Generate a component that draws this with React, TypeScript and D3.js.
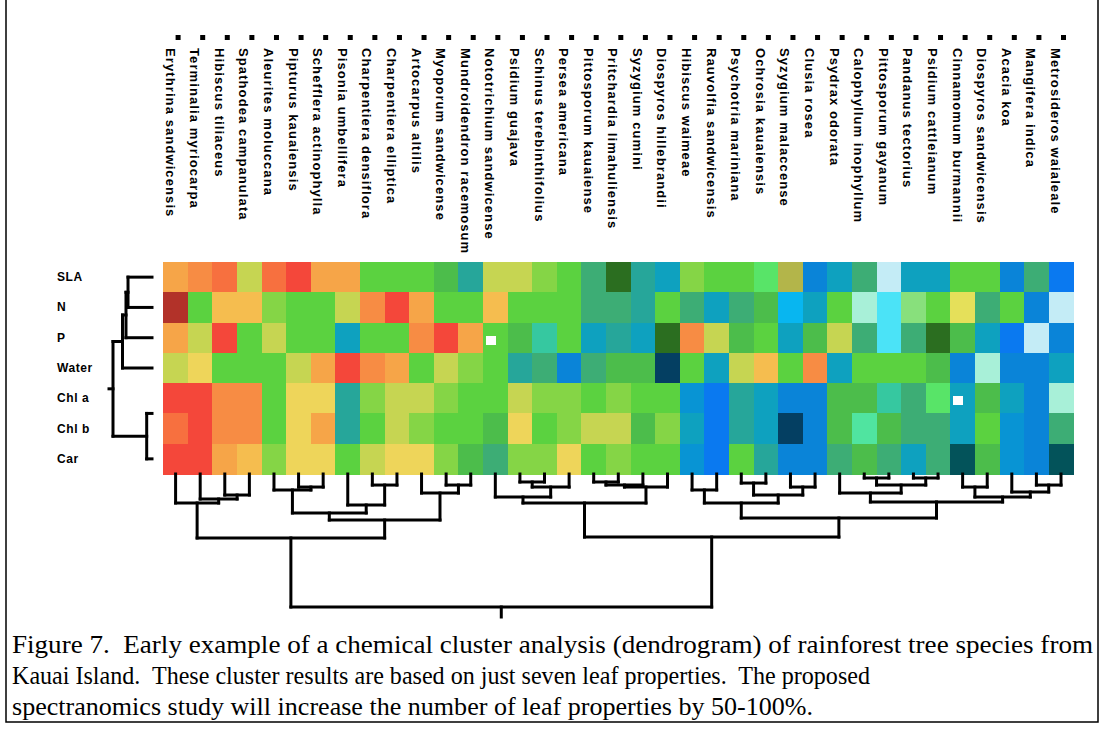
import React from "react";
import * as d3 from "d3";

// ---------- DATA ----------
const species = [
  "Erythrina sandwicensis", "Terminalia myriocarpa", "Hibiscus tiliaceus", "Spathodea campanulata",
  "Aleurites moluccana", "Pipturus kauaiensis", "Schefflera actinophylla", "Pisonia umbellifera",
  "Charpentiera densiflora", "Charpentiera elliptica", "Artocarpus altilis", "Myoporum sandwicense",
  "Mundroidendron racemosum", "Nototrichium sandwicense", "Psidium guajava", "Schinus terebinthifolius",
  "Persea americana", "Pittosporum kauaiense", "Pritchardia limahuliensis", "Syzygium cumini",
  "Diospyros hillebrandii", "Hibiscus waimeae", "Rauvolfia sandwicensis", "Psychotria mariniana",
  "Ochrosia kauaiensis", "Syzygium malaccense", "Clusia rosea", "Psydrax odorata",
  "Calophyllum inophyllum", "Pittosporum gayanum", "Pandanus tectorius", "Psidium cattleianum",
  "Cinnamomum burmannii", "Diospyros sandwicensis", "Acacia koa", "Mangifera indica",
  "Metrosideros waialeale",
];

const traits = ["SLA", "N", "P", "Water", "Chl a", "Chl b", "Car"];

// colour classes of the heat map (one code per cell)
const colorCodes = ["R", "r", "o", "O", "a", "A", "y", "Y", "k", "v", "l", "g", "m", "p", "G", "s", "t", "q", "Q", "M", "c", "u", "b", "B", "S", "C", "L", "d", "n", "x"];
const colorValues = ["#b23229", "#f4473a", "#f7703f", "#f78c44", "#f6a548", "#f5bd4f", "#eed55a", "#e5e05a", "#c6d552", "#b3b54a", "#85d546", "#5bd240", "#4cbd4b", "#58e468", "#88e07c", "#3dad75", "#26a69a", "#36c8a0", "#50e4a0", "#a8f0d8", "#0ea1bf", "#0894d4", "#0a84d8", "#0a79f0", "#08b6f0", "#4be3f7", "#c4ecf6", "#2b6e20", "#043f62", "#03535a"];

const rowSLA = "aOokoraa" + "gggmtkkl" + "gsdtclgg" + "pvbcsLcc" + "ggbsB";
const rowN = "RgAAlggk" + "OraggAgg" + "gsstgscs" + "mScgMCGg" + "YsgbL";
const rowP = "akrgkggc" + "ggOragmq" + "gctcdOkm" + "gcmksCsd" + "mcBLb";
const rowWater = "kygggkar" + "Oagklgts" + "bsmmngck" + "AgOcgggm" + "bMbbc";
const rowChlA = "rrOOgyyt" + "lkklggkl" + "lglgguBt" + "cbbmmqsp" + "cmcbM";
const rowChlB = "orOOgyat" + "gklggmyg" + "lkkmlcBt" + "cnbmQmss" + "cgubs";
const rowCar = "rraAlyyg" + "kyylmsll" + "yglgguBg" + "tbbsmscs" + "xmubx";
const heatRows = [rowSLA, rowN, rowP, rowWater, rowChlA, rowChlB, rowCar];

// cells flagged with a white marker [trait index, species index]
const missingCells: [number, number][] = [[2, 13], [4, 32]];

// dendrograms: leaf = index, node = [merge height, left, right]
type TNode = number | [number, TNode, TNode];
const colTree: TNode = [1.0,
  [0.481,
    [0.218, 0, [0.188, 1, [0.158, 2, 3]]],
    [0.346,
      [0.293, [0.12, 4, [0.098, 5, 6]], [0.233, 7, [0.083, 8, 9]]],
      [0.143, 10, [0.083, 11, 12]]]],
  [0.474,
    [0.218,
      [0.173, 13, [0.098, [0.06, 14, 15], 16]],
      [0.098, [0.083, [0.06, 17, 18], 19], 20]],
    [0.331,
      [0.218, [0.12, 21, 22], [0.158, [0.068, 23, 24], [0.098, 25, 26]]],
      [0.21,
        [0.143, 27, [0.083, [0.03, 28, 29], [0.03, 30, 31]]],
        [0.173, [0.098, 32, 33], [0.135, 34, [0.083, 35, 36]]]]]]];

const rowTree: TNode = [1.0,
  [0.756, [0.667, [0.615, 0, 1], 2], 3],
  [0.136, [0, 4, 5], 6]];

const captionLines = [
  "Figure 7.  Early example of a chemical cluster analysis (dendrogram) of rainforest tree species from",
  "Kauai Island.  These cluster results are based on just seven leaf properties.  The proposed",
  "spectranomics study will increase the number of leaf properties by 50-100%.",
];
const captionWidths = [1081, 858, 801];

// ---------- LAYOUT ----------
const W = 1106, H = 731;
const heatLeft = 163.3, heatRight = 1073.3, heatTop = 262, heatBottom = 474;

type Seg = { p1: number; h1: number; p2: number; h2: number };
function layoutTree(node: TNode, leafPos: (i: number) => number, segs: Seg[]): { p: number; h: number } {
  if (typeof node === "number") return { p: leafPos(node), h: 0 };
  const [h, a, b] = node;
  const A = layoutTree(a, leafPos, segs);
  const B = layoutTree(b, leafPos, segs);
  if (h > 0) {
    segs.push({ p1: A.p, h1: A.h, p2: A.p, h2: h });
    segs.push({ p1: B.p, h1: B.h, p2: B.p, h2: h });
    segs.push({ p1: A.p, h1: h, p2: B.p, h2: h });
  }
  return { p: (A.p + B.p) / 2, h };
}

export default function App() {
  const x = d3.scaleBand<string>().domain(species).range([heatLeft, heatRight]);
  const y = d3.scaleBand<string>().domain(traits).range([heatTop, heatBottom]);
  const color = d3.scaleOrdinal<string, string>().domain(colorCodes).range(colorValues);

  const colH = d3.scaleLinear().domain([0, 1]).range([heatBottom, 607]);
  const rowH = d3.scaleLinear().domain([0, 1]).range([152, 113]);

  const colSegs: Seg[] = [];
  const colRoot = layoutTree(colTree, (i) => (x(species[i]) as number) + x.bandwidth() / 2, colSegs);
  const rowSegs: Seg[] = [];
  const rowRoot = layoutTree(rowTree, (i) => (y(traits[i]) as number) + y.bandwidth() / 2, rowSegs);

  const cw = x.bandwidth(), ch = y.bandwidth();

  return (
    <svg width={W} height={H} style={{ position: "absolute", left: 0, top: 0, background: "#fff" }}>
      <rect x={0} y={0} width={W} height={H} fill="#fff" />
      {/* border */}
      <path d={`M6,0V722H1098V0`} fill="none" stroke="#000" strokeWidth={1.5} />

      {/* heat map */}
      <g shapeRendering="crispEdges">
        {heatRows.map((row, r) =>
          species.map((s, c) => (
            <rect key={`${r}-${c}`} x={x(s)} y={y(traits[r])} width={cw + 0.6} height={ch + 0.6} fill={color(row[c])} />
          ))
        )}
        {missingCells.map(([r, c], i) => (
          <rect key={`m${i}`} x={(x(species[c]) as number) + 3} y={(y(traits[r]) as number) + ch / 2 - 2} width={10} height={9} fill="#fff" />
        ))}
      </g>

      {/* species labels */}
      <g fontFamily="'Liberation Sans', Arial, sans-serif" fontWeight="bold" fontSize={13} fill="#000">
        {species.map((s) => {
          const cx = (x(s) as number) + cw / 2;
          return (
            <g key={s}>
              <rect x={cx} y={35} width={5} height={5} fill="#000" />
              <text transform={`translate(${cx - 10},48) rotate(90)`} letterSpacing={1.1}>{s}</text>
            </g>
          );
        })}
      </g>

      {/* trait labels */}
      <g fontFamily="'Liberation Sans', Arial, sans-serif" fontWeight="bold" fontSize={12} fill="#000">
        {traits.map((t) => (
          <text key={t} x={57} y={(y(t) as number) + ch / 2 + 4} letterSpacing={0.6}>{t}</text>
        ))}
      </g>

      {/* column dendrogram */}
      <g stroke="#000" strokeWidth={3} strokeLinecap="square" fill="none">
        {colSegs.map((s, i) => (
          <line key={i} x1={s.p1} y1={colH(s.h1)} x2={s.p2} y2={colH(s.h2)} />
        ))}
        <line x1={colRoot.p} y1={colH(1)} x2={colRoot.p} y2={617} />
      </g>

      {/* row dendrogram */}
      <g stroke="#000" strokeWidth={3} strokeLinecap="square" fill="none">
        {rowSegs.map((s, i) => (
          <line key={i} x1={rowH(s.h1)} y1={s.p1} x2={rowH(s.h2)} y2={s.p2} />
        ))}
        <line x1={rowH(1)} y1={rowRoot.p} x2={109} y2={rowRoot.p} />
      </g>

      {/* caption */}
      <g fontFamily="'Times New Roman', 'Liberation Serif', serif" fontSize={25} fill="#000">
        {captionLines.map((l, i) => (
          <text key={i} x={12} y={653 + i * 31} textLength={captionWidths[i]} lengthAdjust="spacingAndGlyphs" style={{ whiteSpace: "pre" }}>{l}</text>
        ))}
      </g>
    </svg>
  );
}
